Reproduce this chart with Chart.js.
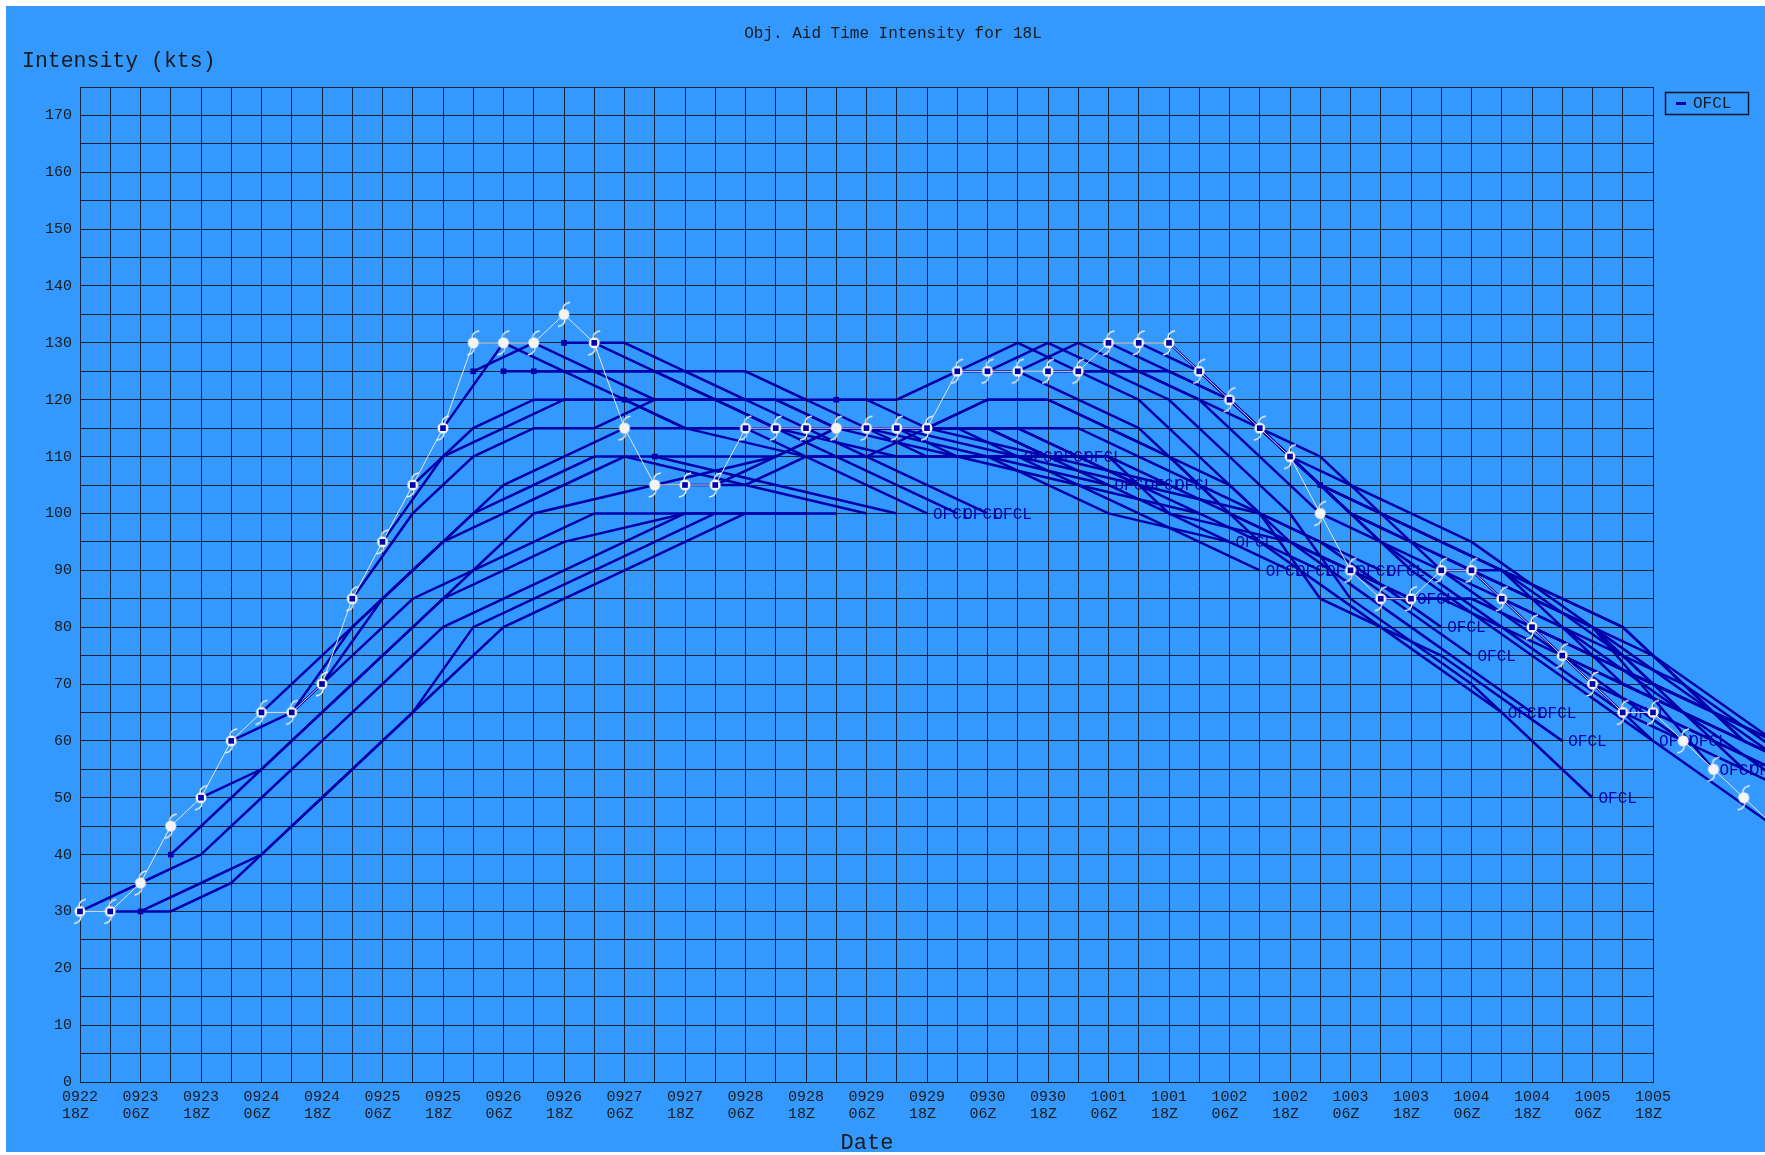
<!DOCTYPE html>
<html>
<head>
<meta charset="utf-8">
<title>Obj. Aid Time Intensity for 18L</title>
<script src="https://cdn.jsdelivr.net/npm/chart.js@4.4.1/dist/chart.umd.min.js"></script>
<style>
  html, body { margin: 0; padding: 0; background: #fff; }
</style>
</head>
<body>
<canvas id="chartIntensity" width="1765" height="1155"></canvas>
<script>
// x = number of 6-hour steps after 0922 18Z
const tickDays  = ['0922','0923','0923','0924','0924','0925','0925','0926','0926','0927','0927','0928','0928','0929','0929','0930','0930','1001','1001','1002','1002','1003','1003','1004','1004','1005','1005'];
const tickHours = ['18Z','06Z','18Z','06Z','18Z','06Z','18Z','06Z','18Z','06Z','18Z','06Z','18Z','06Z','18Z','06Z','18Z','06Z','18Z','06Z','18Z','06Z','18Z','06Z','18Z','06Z','18Z'];

// best track (kts), every 6 h from 0922 18Z
const bestTrack = [30,30,35,45,50,60,65,65,70,85,95,105,115,130,130,130,135,130,115,105,105,105,115,115,115,115,115,115,115,125,125,125,125,125,130,130,130,125,120,115,110,100,90,85,85,90,90,85,80,75,70,65,65,60,55,50,45];

// OFCL forecasts: lead times in 6 h steps, and kts at each lead (one row per 6 h start)
const leadSteps = [0,2,4,6,8,10,12,16,20];
const ofclStart = [];
const ofclKts = [
  [30,35,40,50,60,70,80,90,100],
  [30,30,35,45,55,65,80,90,100],
  [30,35,40,50,60,70,80,90,100],
  [40,50,60,70,80,90,100,105,110],
  [50,55,65,75,85,90,95,100,100],
  [60,65,75,85,90,95,100,100,100],
  [65,75,85,95,100,105,110,105,100],
  [65,80,90,100,105,110,110,105,100],
  [70,85,95,105,110,115,115,110,100],
  [85,100,110,115,115,120,120,110,100],
  [95,110,115,120,120,120,120,110,100],
  [105,115,120,120,120,120,115,110,110],
  [115,130,125,120,115,115,110,110,110],
  [125,130,125,120,120,115,115,110,110],
  [125,125,125,125,120,120,115,110,105],
  [125,125,125,120,120,115,115,110,105],
  [130,130,125,125,120,120,115,110,105],
  [130,125,120,120,115,115,110,105,100],
  [120,115,115,115,115,110,110,100,95],
  [110,110,110,115,115,115,110,100,90],
  [105,105,110,110,115,115,110,100,90],
  [105,110,115,115,115,115,110,100,90],
  [115,115,115,115,115,110,110,100,90],
  [115,115,115,115,115,110,105,100,90],
  [115,115,115,115,110,110,100,95,85],
  [120,120,125,125,120,115,105,95,80],
  [115,115,120,120,115,110,100,90,75],
  [115,115,115,115,110,105,95,80,65],
  [115,120,120,115,110,105,95,80,65],
  [125,130,125,120,110,100,85,75,60],
  [125,130,125,120,110,100,85,70,50],
  [125,130,125,120,110,100,95,80,65],
  [125,125,125,120,110,100,90,75,60],
  [125,125,120,115,105,100,90,75,60],
  [130,125,120,110,105,100,95,80,55],
  [130,125,115,110,100,95,90,75,55],
  [130,120,110,100,95,90,80,60,45],
  [125,115,105,100,95,90,80,65,50],
  [120,110,100,95,90,85,80,65,50],
  [115,105,100,95,90,85,80,60,50],
  [110,100,95,90,85,80,75,60,45],
  [105,95,90,85,80,75,70,55,40],
  [90,85,85,80,75,70,65,55,45],
  [85,85,80,75,70,65,60,50,40],
  [85,85,80,75,70,65,60,50,40],
  [90,90,85,80,70,60,55,45,40],
  [90,85,80,70,65,60,55,45,40],
  [85,80,70,65,60,55,50,45,40],
  [80,75,70,65,60,55,50,45,40],
  [75,70,65,60,55,50,45,40,35],
  [70,65,60,55,50,45,40,35,30],
  [65,60,55,50,45,40,35,30,30],
  [65,60,55,50,45,40,35,30,30]
];
for (let s = 0; s < ofclKts.length; s++) ofclStart.push(s);

// where the "OFCL" end tags sit (step, kts)
const ofclTagAt = [[28,100],[29,100],[30,100],[31,110],[32,110],[33,110],[34,105],[35,105],[36,105],
  [38,95],[39,90],[40,90],[41,90],[42,90],[43,90],[44,85],[45,80],[46,75],[47,65],[48,65],
  [49,60],[50,50],[51,65],[52,60],[53,60],[54,55],[55,55]];

const BIRU = '#0000AA';
const MONO = '"Liberation Mono", "DejaVu Sans Mono", monospace';

// hurricane symbol used as point image
function simbolBadai() {
  let c = document.createElement('canvas');
  c.width = 30; c.height = 30;
  let g = c.getContext('2d');
  g.strokeStyle = '#f2f2f2';
  g.lineWidth = 1.3;
  g.beginPath();
  g.moveTo(14, 10);
  g.quadraticCurveTo(14, 4, 21, 3);
  g.moveTo(16, 20);
  g.quadraticCurveTo(16, 26, 9, 27);
  g.stroke();
  g.fillStyle = '#f4f4f4';
  g.beginPath();
  g.arc(15, 15, 5.5, 0, Math.PI * 2);
  g.fill();
  return c;
}
const badai = simbolBadai();

let datasets = [];

ofclStart.forEach((s, j) => {
  datasets.push({
    label: 'OFCL',
    data: leadSteps.map((d, k) => ({ x: s + d, y: ofclKts[j][k] })),
    borderColor: BIRU,
    borderWidth: 2.5,
    pointRadius: 0,
    clip: false,
    order: 3
  });
});

const btIndex = datasets.length;
datasets.push({
  label: 'BEST',
  data: bestTrack.map((v, i) => ({ x: i, y: v })),
  borderColor: '#e6e6e6',
  borderWidth: 1,
  pointStyle: badai,
  pointRadius: 6,
  clip: false,
  order: 2
});

datasets.push({
  label: 'OFCL 0h',
  data: ofclStart.map((s, j) => ({ x: s, y: ofclKts[j][0] })),
  showLine: false,
  pointStyle: 'rect',
  pointRadius: 4,
  pointBackgroundColor: BIRU,
  pointBorderColor: BIRU,
  borderWidth: 0,
  clip: false,
  order: 1
});

// background, titles, legend, OFCL tags
const hiasan = {
  id: 'hiasan',
  beforeDraw(chart) {
    let c = chart.ctx;
    c.save();
    c.fillStyle = '#ffffff';
    c.fillRect(0, 0, chart.width, chart.height);
    c.fillStyle = '#3399FF';
    c.fillRect(6, 6, chart.width - 6, chart.height - 9);
    c.restore();
  },
  beforeDatasetsDraw(chart) {
    let c = chart.ctx;
    let x = chart.scales.x, y = chart.scales.y;
    c.save();
    c.fillStyle = BIRU;
    c.font = '16px ' + MONO;
    c.textBaseline = 'middle';
    ofclTagAt.forEach(t => {
      c.fillText('OFCL', x.getPixelForValue(t[0]) + 6, y.getPixelForValue(t[1]) + 1);
    });
    c.restore();
  },
  afterDatasetsDraw(chart) {
    // best-track symbols past the right edge of the plot area
    let c = chart.ctx;
    let kanan = chart.chartArea.right;
    chart.getDatasetMeta(btIndex).data.forEach(p => {
      if (p.x > kanan + 10) c.drawImage(badai, p.x - 15, p.y - 15);
    });
  },
  afterDraw(chart) {
    let c = chart.ctx;
    c.save();
    c.fillStyle = '#1a1a1a';
    c.textBaseline = 'middle';
    c.font = '16px ' + MONO;
    c.textAlign = 'center';
    c.fillText('Obj. Aid Time Intensity for 18L', 893, 34);
    c.font = '22px ' + MONO;
    c.fillText('Date', 867, 1143);
    c.textAlign = 'left';
    c.font = '21.5px ' + MONO;
    c.fillText('Intensity (kts)', 22, 61);

    // legend
    c.strokeStyle = '#0a1530';
    c.lineWidth = 1.5;
    c.strokeRect(1665.5, 92.5, 83, 22);
    c.strokeStyle = BIRU;
    c.lineWidth = 3;
    c.beginPath();
    c.moveTo(1676, 103.5);
    c.lineTo(1686, 103.5);
    c.stroke();
    c.fillStyle = '#1a1a1a';
    c.font = '16px ' + MONO;
    c.fillText('OFCL', 1693, 104);
    c.restore();
  }
};

new Chart(document.getElementById('chartIntensity'), {
  type: 'line',
  data: { datasets: datasets },
  options: {
    responsive: false,
    animation: false,
    events: [],
    layout: { padding: { left: 0, top: 87, right: 112, bottom: 0 } },
    plugins: {
      legend: { display: false },
      tooltip: { enabled: false },
      title: { display: false }
    },
    scales: {
      x: {
        type: 'linear',
        afterDataLimits(scale) { scale.min = 0; scale.max = 52; },
        afterFit(scale) { scale.height = 73; },
        grid: { color: '#0d2238', lineWidth: 1, drawTicks: false },
        border: { color: '#0d2238', width: 1 },
        ticks: {
          stepSize: 1,
          autoSkip: false,
          maxRotation: 0,
          padding: 6,
          color: '#1a1a1a',
          font: { family: MONO, size: 15, lineHeight: 1.15 },
          callback: v => (v % 2 === 0 && tickDays[v / 2]) ? [tickDays[v / 2], tickHours[v / 2] + ' '] : ''
        }
      },
      y: {
        min: 0,
        max: 175,
        afterFit(scale) { scale.width = 80; },
        grid: { color: '#0d2238', lineWidth: 1, drawTicks: false },
        border: { color: '#0d2238', width: 1 },
        ticks: {
          stepSize: 5,
          autoSkip: false,
          padding: 8,
          color: '#1a1a1a',
          font: { family: MONO, size: 15 },
          callback: v => v % 10 === 0 ? String(v) : ''
        }
      }
    }
  },
  plugins: [hiasan]
});
</script>
</body>
</html>
